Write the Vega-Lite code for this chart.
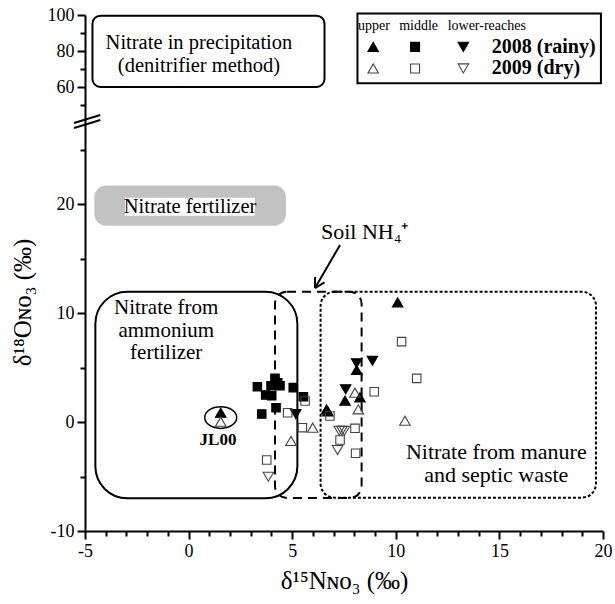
{
  "$schema": "https://vega.github.io/schema/vega-lite/v6.json",
  "width": 518,
  "height": 516,
  "autosize": {"type": "none"},
  "padding": {"left": 85, "top": 15, "right": 12, "bottom": 73},
  "background": "white",
  "config": {
    "view": {"stroke": null},
    "font": "Liberation Serif",
    "text": {"font": "Liberation Serif", "color": "black", "baseline": "middle"}
  },
  "datasets": {
    "pts": [
      {"reach": "upper", "year": "2008", "x": 1.55, "y": 0.85},
      {"reach": "upper", "year": "2008", "x": 10.09, "y": 10.98},
      {"reach": "upper", "year": "2008", "x": 8.11, "y": 4.77},
      {"reach": "upper", "year": "2008", "x": 8.27, "y": 2.26},
      {"reach": "upper", "year": "2008", "x": 7.55, "y": 1.96},
      {"reach": "upper", "year": "2008", "x": 6.66, "y": 1.16},
      {"reach": "upper", "year": "2008", "x": 6.72, "y": 0.97},
      {"reach": "middle", "year": "2008", "x": 3.32, "y": 3.24},
      {"reach": "middle", "year": "2008", "x": 4.17, "y": 4.0},
      {"reach": "middle", "year": "2008", "x": 3.98, "y": 3.33},
      {"reach": "middle", "year": "2008", "x": 4.41, "y": 3.33},
      {"reach": "middle", "year": "2008", "x": 4.3, "y": 3.6},
      {"reach": "middle", "year": "2008", "x": 3.72, "y": 2.48},
      {"reach": "middle", "year": "2008", "x": 4.01, "y": 2.41},
      {"reach": "middle", "year": "2008", "x": 5.05, "y": 3.15},
      {"reach": "middle", "year": "2008", "x": 5.54, "y": 2.32},
      {"reach": "middle", "year": "2008", "x": 4.22, "y": 1.31},
      {"reach": "middle", "year": "2008", "x": 3.53, "y": 0.73},
      {"reach": "lower", "year": "2008", "x": 5.17, "y": 0.73},
      {"reach": "lower", "year": "2008", "x": 8.11, "y": 5.38},
      {"reach": "lower", "year": "2008", "x": 8.87, "y": 5.62},
      {"reach": "lower", "year": "2008", "x": 7.58, "y": 3.0},
      {"reach": "upper", "year": "2009", "x": 1.55, "y": 0.03},
      {"reach": "upper", "year": "2009", "x": 4.94, "y": -1.74},
      {"reach": "upper", "year": "2009", "x": 5.99, "y": -0.52},
      {"reach": "upper", "year": "2009", "x": 8.03, "y": 2.69},
      {"reach": "upper", "year": "2009", "x": 8.19, "y": 1.16},
      {"reach": "upper", "year": "2009", "x": 10.44, "y": 0.12},
      {"reach": "middle", "year": "2009", "x": 5.62, "y": 1.93},
      {"reach": "middle", "year": "2009", "x": 4.78, "y": 0.85},
      {"reach": "middle", "year": "2009", "x": 5.49, "y": -0.52},
      {"reach": "middle", "year": "2009", "x": 6.82, "y": 0.55},
      {"reach": "middle", "year": "2009", "x": 8.03, "y": -0.58},
      {"reach": "middle", "year": "2009", "x": 7.31, "y": -1.65},
      {"reach": "middle", "year": "2009", "x": 8.06, "y": -2.87},
      {"reach": "middle", "year": "2009", "x": 3.77, "y": -3.49},
      {"reach": "middle", "year": "2009", "x": 10.28, "y": 7.37},
      {"reach": "middle", "year": "2009", "x": 11.01, "y": 4.0},
      {"reach": "middle", "year": "2009", "x": 8.96, "y": 2.78},
      {"reach": "lower", "year": "2009", "x": 3.85, "y": -5.02},
      {"reach": "lower", "year": "2009", "x": 7.19, "y": -2.57},
      {"reach": "lower", "year": "2009", "x": 7.27, "y": -0.8},
      {"reach": "lower", "year": "2009", "x": 7.4, "y": -0.8},
      {"reach": "lower", "year": "2009", "x": 7.52, "y": -0.8}
    ],
    "leg": [
      {"reach": "upper", "year": "2008", "x": 8.91, "y": 82.3},
      {"reach": "middle", "year": "2008", "x": 10.93, "y": 82.3},
      {"reach": "lower", "year": "2008", "x": 13.26, "y": 82.3},
      {"reach": "upper", "year": "2009", "x": 8.91, "y": 70.3},
      {"reach": "middle", "year": "2009", "x": 10.93, "y": 70.3},
      {"reach": "lower", "year": "2009", "x": 13.26, "y": 70.3}
    ]
  },
  "encoding": {
    "x": {
      "field": "x", "type": "quantitative",
      "scale": {"domain": [-5, 20], "nice": false, "zero": false},
      "axis": {
        "title": "δ¹⁵Nɴᴏ₃ (‰)",
        "values": [-5,-4,-3,-2,-1,0,1,2,3,4,5,6,7,8,9,10,11,12,13,14,15,16,17,18,19,20],
        "labelExpr": "datum.value % 5 === 0 ? '' + datum.value : ''",
        "tickSize": {"condition": {"test": "datum.value % 5 === 0", "value": 8}, "value": 5},
        "grid": false, "domainColor": "black", "domainWidth": 2,
        "tickColor": "black", "tickWidth": 2,
        "labelFont": "Liberation Serif", "labelFontSize": 18, "labelColor": "black",
        "labelPadding": 3, "labelFlush": false, "labelOverlap": false,
        "titleFont": "Liberation Serif", "titleFontSize": 25, "titleFontWeight": "normal",
        "titleColor": "black", "titleY": 49, "titleBaseline": "middle"
      }
    },
    "y": {
      "field": "y", "type": "quantitative",
      "scale": {"domain": [-10, 27, 48, 100], "range": [516, 112.7, 93.6, 0], "nice": false, "zero": false},
      "axis": {
        "title": "δ¹⁸Oɴᴏ₃ (‰)",
        "values": [-10,-5,0,5,10,15,20,25,50,60,70,80,90,100],
        "labelExpr": "indexof([-10,0,10,20,60,80,100], datum.value) >= 0 ? '' + datum.value : ''",
        "tickSize": {"condition": {"test": "indexof([-10,0,10,20,60,80,100], datum.value) >= 0", "value": 8}, "value": 5},
        "grid": false, "domainColor": "black", "domainWidth": 2,
        "tickColor": "black", "tickWidth": 2,
        "labelFont": "Liberation Serif", "labelFontSize": 18, "labelColor": "black",
        "labelPadding": 3, "labelOverlap": false, "labelFlush": false,
        "titleFont": "Liberation Serif", "titleFontSize": 25, "titleFontWeight": "normal",
        "titleColor": "black", "titleX": -63, "titleY": 287, "titleBaseline": "middle", "titleAngle": -90
      }
    }
  },
  "layer": [
    {
      "data": {"values": [{"x": -4.55, "x2": 4.7, "y": 21.7, "y2": 18.0}]},
      "mark": {"type": "rect", "fill": "#c2c2c2", "cornerRadius": 12},
      "encoding": {"x2": {"field": "x2"}, "y2": {"field": "y2"}}
    },
    {
      "data": {"values": [{"x": -3.07, "x2": 3.2, "y": 20.58, "y2": 18.93}]},
      "mark": {"type": "rect", "fill": "white"},
      "encoding": {"x2": {"field": "x2"}, "y2": {"field": "y2"}}
    },
    {
      "data": {"values": [{"x": 4.17, "x2": 8.35, "y": 11.95, "y2": -6.97}]},
      "mark": {"type": "rect", "filled": false, "stroke": "black", "strokeWidth": 2, "strokeDash": [9, 6], "cornerRadius": 12},
      "encoding": {"x2": {"field": "x2"}, "y2": {"field": "y2"}}
    },
    {
      "data": {"values": [{"x": 6.37, "x2": 19.66, "y": 11.95, "y2": -6.94}]},
      "mark": {"type": "rect", "filled": false, "stroke": "black", "strokeWidth": 2, "strokeDash": [3, 2], "cornerRadius": 14},
      "encoding": {"x2": {"field": "x2"}, "y2": {"field": "y2"}}
    },
    {
      "data": {"values": [{"x": -4.5, "x2": 5.25, "y": 11.95, "y2": -7.0}]},
      "mark": {"type": "rect", "filled": false, "stroke": "black", "strokeWidth": 2, "cornerRadius": 32},
      "encoding": {"x2": {"field": "x2"}, "y2": {"field": "y2"}}
    },
    {
      "data": {"values": [{"x": -4.64, "x2": 6.56, "y": 99.6, "y2": 60}]},
      "mark": {"type": "rect", "filled": false, "stroke": "black", "strokeWidth": 2, "cornerRadius": 8},
      "encoding": {"x2": {"field": "x2"}, "y2": {"field": "y2"}}
    },
    {
      "data": {"values": [{"x": 8.15, "x2": 19.9, "y": 100.9, "y2": 62.1}]},
      "mark": {"type": "rect", "filled": false, "stroke": "black", "strokeWidth": 2},
      "encoding": {"x2": {"field": "x2"}, "y2": {"field": "y2"}}
    },
    {
      "data": {"values": [
        {"x": 7.31, "y": 16.24, "x2": 6.1, "y2": 12.29},
        {"x": 6.56, "y": 12.8, "x2": 6.1, "y2": 12.29},
        {"x": 6.1, "y": 13.3, "x2": 6.1, "y2": 12.29},
        {"x": -5.53, "y": 32.17, "x2": -4.26, "y2": 40.96},
        {"x": -5.53, "y": 26.97, "x2": -4.26, "y2": 35.47}
      ]},
      "mark": {"type": "rule", "stroke": "black", "strokeWidth": 2},
      "encoding": {"x2": {"field": "x2"}, "y2": {"field": "y2"}}
    },
    {
      "data": {"values": [{"x": 1.55, "y": 0.41}]},
      "mark": {"type": "point", "shape": "M-1,0A1,0.68,0,1,1,1,0A1,0.68,0,1,1,-1,0Z", "size": 1024, "filled": false, "stroke": "black", "strokeWidth": 1.5, "opacity": 1}
    },
    {
      "data": {"name": "pts"},
      "transform": [{"filter": "datum.reach !== 'middle'"}],
      "mark": {"type": "point", "size": 110, "strokeWidth": 1.1, "opacity": 1},
      "encoding": {
        "shape": {"field": "reach", "type": "nominal", "scale": {"domain": ["upper", "middle", "lower"], "range": ["triangle-up", "square", "triangle-down"]}, "legend": null},
        "fill": {"field": "year", "type": "nominal", "scale": {"domain": ["2008", "2009"], "range": ["black", "transparent"]}, "legend": null},
        "stroke": {"field": "year", "type": "nominal", "scale": {"domain": ["2008", "2009"], "range": ["black", "#444444"]}, "legend": null}
      }
    },
    {
      "data": {"name": "pts"},
      "transform": [{"filter": "datum.reach === 'middle'"}],
      "mark": {"type": "point", "size": 72, "strokeWidth": 1.1, "opacity": 1},
      "encoding": {
        "shape": {"field": "reach", "type": "nominal", "legend": null},
        "fill": {"field": "year", "type": "nominal", "legend": null},
        "stroke": {"field": "year", "type": "nominal", "legend": null}
      }
    },
    {
      "data": {"name": "leg"},
      "transform": [{"filter": "datum.reach !== 'middle'"}],
      "mark": {"type": "point", "size": 110, "strokeWidth": 1.1, "opacity": 1},
      "encoding": {
        "shape": {"field": "reach", "type": "nominal", "legend": null},
        "fill": {"field": "year", "type": "nominal", "legend": null},
        "stroke": {"field": "year", "type": "nominal", "legend": null}
      }
    },
    {
      "data": {"name": "leg"},
      "transform": [{"filter": "datum.reach === 'middle'"}],
      "mark": {"type": "point", "size": 80, "strokeWidth": 1.1, "opacity": 1},
      "encoding": {
        "shape": {"field": "reach", "type": "nominal", "legend": null},
        "fill": {"field": "year", "type": "nominal", "legend": null},
        "stroke": {"field": "year", "type": "nominal", "legend": null}
      }
    },
    {
      "data": {"values": [
        {"x": 0.5, "y": 84.4, "label": "Nitrate in precipitation"},
        {"x": 0.5, "y": 71.8, "label": "(denitrifier method)"},
        {"x": 0.07, "y": 19.75, "label": "Nitrate fertilizer"}
      ]},
      "mark": {"type": "text", "font": "Liberation Serif", "fontSize": 20.5, "align": "center"},
      "encoding": {"text": {"field": "label"}}
    },
    {
      "data": {"values": [
        {"x": -1.08, "y": 10.49, "label": "Nitrate from"},
        {"x": -1.08, "y": 8.35, "label": "ammonium"},
        {"x": -1.08, "y": 6.33, "label": "fertilizer"}
      ]},
      "mark": {"type": "text", "font": "Liberation Serif", "fontSize": 21, "align": "center"},
      "encoding": {"text": {"field": "label"}}
    },
    {
      "data": {"values": [
        {"x": 8.5, "y": 17.4, "label": "Soil NH₄⁺"},
        {"x": 14.85, "y": -2.75, "label": "Nitrate from manure"},
        {"x": 14.85, "y": -4.86, "label": "and septic waste"}
      ]},
      "mark": {"type": "text", "font": "Liberation Serif", "fontSize": 22, "align": "center"},
      "encoding": {"text": {"field": "label"}}
    },
    {
      "data": {"values": [
        {"x": 8.95, "y": 94.1, "label": "upper"},
        {"x": 11.1, "y": 94.1, "label": "middle"},
        {"x": 14.39, "y": 94.1, "label": "lower-reaches"}
      ]},
      "mark": {"type": "text", "font": "Liberation Serif", "fontSize": 14, "align": "center"},
      "encoding": {"text": {"field": "label"}}
    },
    {
      "data": {"values": [
        {"x": 14.63, "y": 82.3, "label": "2008 (rainy)"},
        {"x": 14.63, "y": 70.3, "label": "2009 (dry)"}
      ]},
      "mark": {"type": "text", "font": "Liberation Serif", "fontSize": 20, "fontWeight": "bold", "align": "left"},
      "encoding": {"text": {"field": "label"}}
    },
    {
      "data": {"values": [{"x": 1.42, "y": -1.65, "label": "JL00"}]},
      "mark": {"type": "text", "font": "Liberation Serif", "fontSize": 17, "fontWeight": "bold", "align": "center"},
      "encoding": {"text": {"field": "label"}}
    }
  ]
}
